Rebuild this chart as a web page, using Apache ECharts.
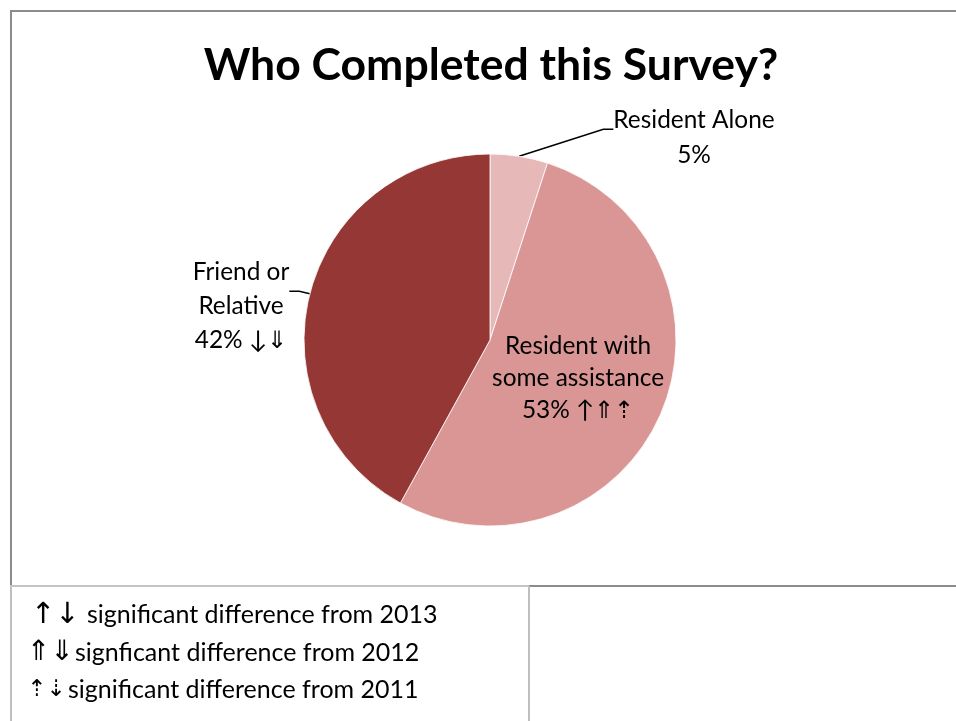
<!DOCTYPE html>
<html>
<head>
<meta charset="utf-8">
<script src="https://cdn.jsdelivr.net/npm/echarts@6/dist/echarts.min.js"></script>
<style>
  html, body { margin: 0; padding: 0; background: #ffffff; }
  #chart { width: 956px; height: 721px; }
</style>
</head>
<body>
<div id="chart"></div>
<script>
// ---- data ----
const titleText = 'Who Completed this Survey?';
const categories = ['Resident Alone', 'Resident with\nsome assistance', 'Friend or\nRelative'];
const values = [5, 53, 42];
const sigMarks = ['', ' \u2191\u21D1\u21E1', ' \u2193\u21D3'];
const legendArrows = ['\u2191\u2193', '\u21D1\u21D3', '\u21E1\u21E3'];
const legendTexts = [
  'significant difference from 2013',
  'signficant difference from 2012',
  'significant difference from 2011'
];
const colors = ['#E6B9B8', '#D99694', '#953735'];

const FONT = 'Lato, "Open Sans", sans-serif';
const ARROW_FONT = '"DejaVu Sans", sans-serif';

// layout of the legend rows (style only)
const legendArrowX = [31, 27, 27];
const legendArrowW = [56, 48, 41];
const legendArrowSize = [29, 28, 23];

// label styling (style only): spacer height above text so the leader line meets the upper part
const labelLineHeights = [35, 32, 34];
const labelSpacer = [21, 0, 48];

const chart = echarts.init(document.getElementById('chart'), null, { renderer: 'canvas' });

function labelText(p) {
  const i = p.dataIndex;
  const lines = (p.name + '\n' + p.value + '%' + sigMarks[i]).split('\n');
  const body = lines.map(l => '{n' + i + '|' + l + '}').join('\n');
  return labelSpacer[i] ? '{s' + i + '| }\n' + body : body;
}

const richStyles = {};
categories.forEach((c, i) => {
  richStyles['n' + i] = { fontFamily: FONT, fontSize: 24.4, lineHeight: labelLineHeights[i], color: '#000', align: 'center' };
  richStyles['s' + i] = { fontSize: 1, lineHeight: labelSpacer[i] || 1 };
});

const pieData = categories.map((c, i) => ({
  name: c,
  value: values[i],
  itemStyle: { color: colors[i] },
  label: { position: i === 1 ? 'inside' : 'outside' },
  labelLine: { show: i !== 1 }
}));

const legendGraphics = legendTexts.map((t, i) => ({
  type: 'text',
  x: legendArrowX[i],
  y: 615 + i * 37.5,
  style: {
    text: '{a|' + legendArrows[i] + '}{t|' + t + '}',
    verticalAlign: 'middle',
    rich: {
      a: { fontFamily: ARROW_FONT, fontSize: legendArrowSize[i], width: legendArrowW[i], fill: '#000' },
      t: { fontFamily: FONT, fontSize: 25, fill: '#000' }
    }
  }
}));

chart.setOption({
  backgroundColor: '#ffffff',
  animation: false,
  title: {
    text: titleText,
    left: 486,
    top: 38,
    textAlign: 'center',
    textStyle: { fontFamily: FONT, fontWeight: 'bold', fontSize: 44.5, color: '#000' }
  },
  graphic: [
    { type: 'rect', shape: { x: 11, y: 11, width: 960, height: 575 }, style: { fill: 'none', stroke: '#8c8c8c', lineWidth: 2 }, silent: true },
    { type: 'line', shape: { x1: 11, y1: 586, x2: 11, y2: 725 }, style: { stroke: '#bfbfbf', lineWidth: 2 }, silent: true },
    { type: 'line', shape: { x1: 10, y1: 586, x2: 529, y2: 586 }, style: { stroke: '#c4c4c4', lineWidth: 2 }, silent: true },
    { type: 'line', shape: { x1: 529, y1: 586, x2: 529, y2: 725 }, style: { stroke: '#bfbfbf', lineWidth: 2 }, silent: true }
  ].concat(legendGraphics),
  series: [{
    type: 'pie',
    center: [490, 340],
    radius: [0, 186],
    startAngle: 90,
    clockwise: true,
    avoidLabelOverlap: false,
    itemStyle: { borderColor: '#ffffff', borderWidth: 0.8 },
    label: {
      show: true,
      color: '#000',
      fontFamily: FONT,
      fontSize: 24.4,
      align: 'center',
      formatter: labelText,
      rich: richStyles
    },
    labelLine: {
      show: true,
      length: 10,
      length2: 10,
      smooth: false,
      lineStyle: { color: '#000', width: 1.5 }
    },
    labelLayout: p => {
      if (p.dataIndex === 0) return { x: 694, y: 127, align: 'center', verticalAlign: 'middle' };
      if (p.dataIndex === 2) return { x: 241, y: 282, align: 'center', verticalAlign: 'middle' };
      return {};
    },
    data: pieData
  }]
});
</script>
</body>
</html>
